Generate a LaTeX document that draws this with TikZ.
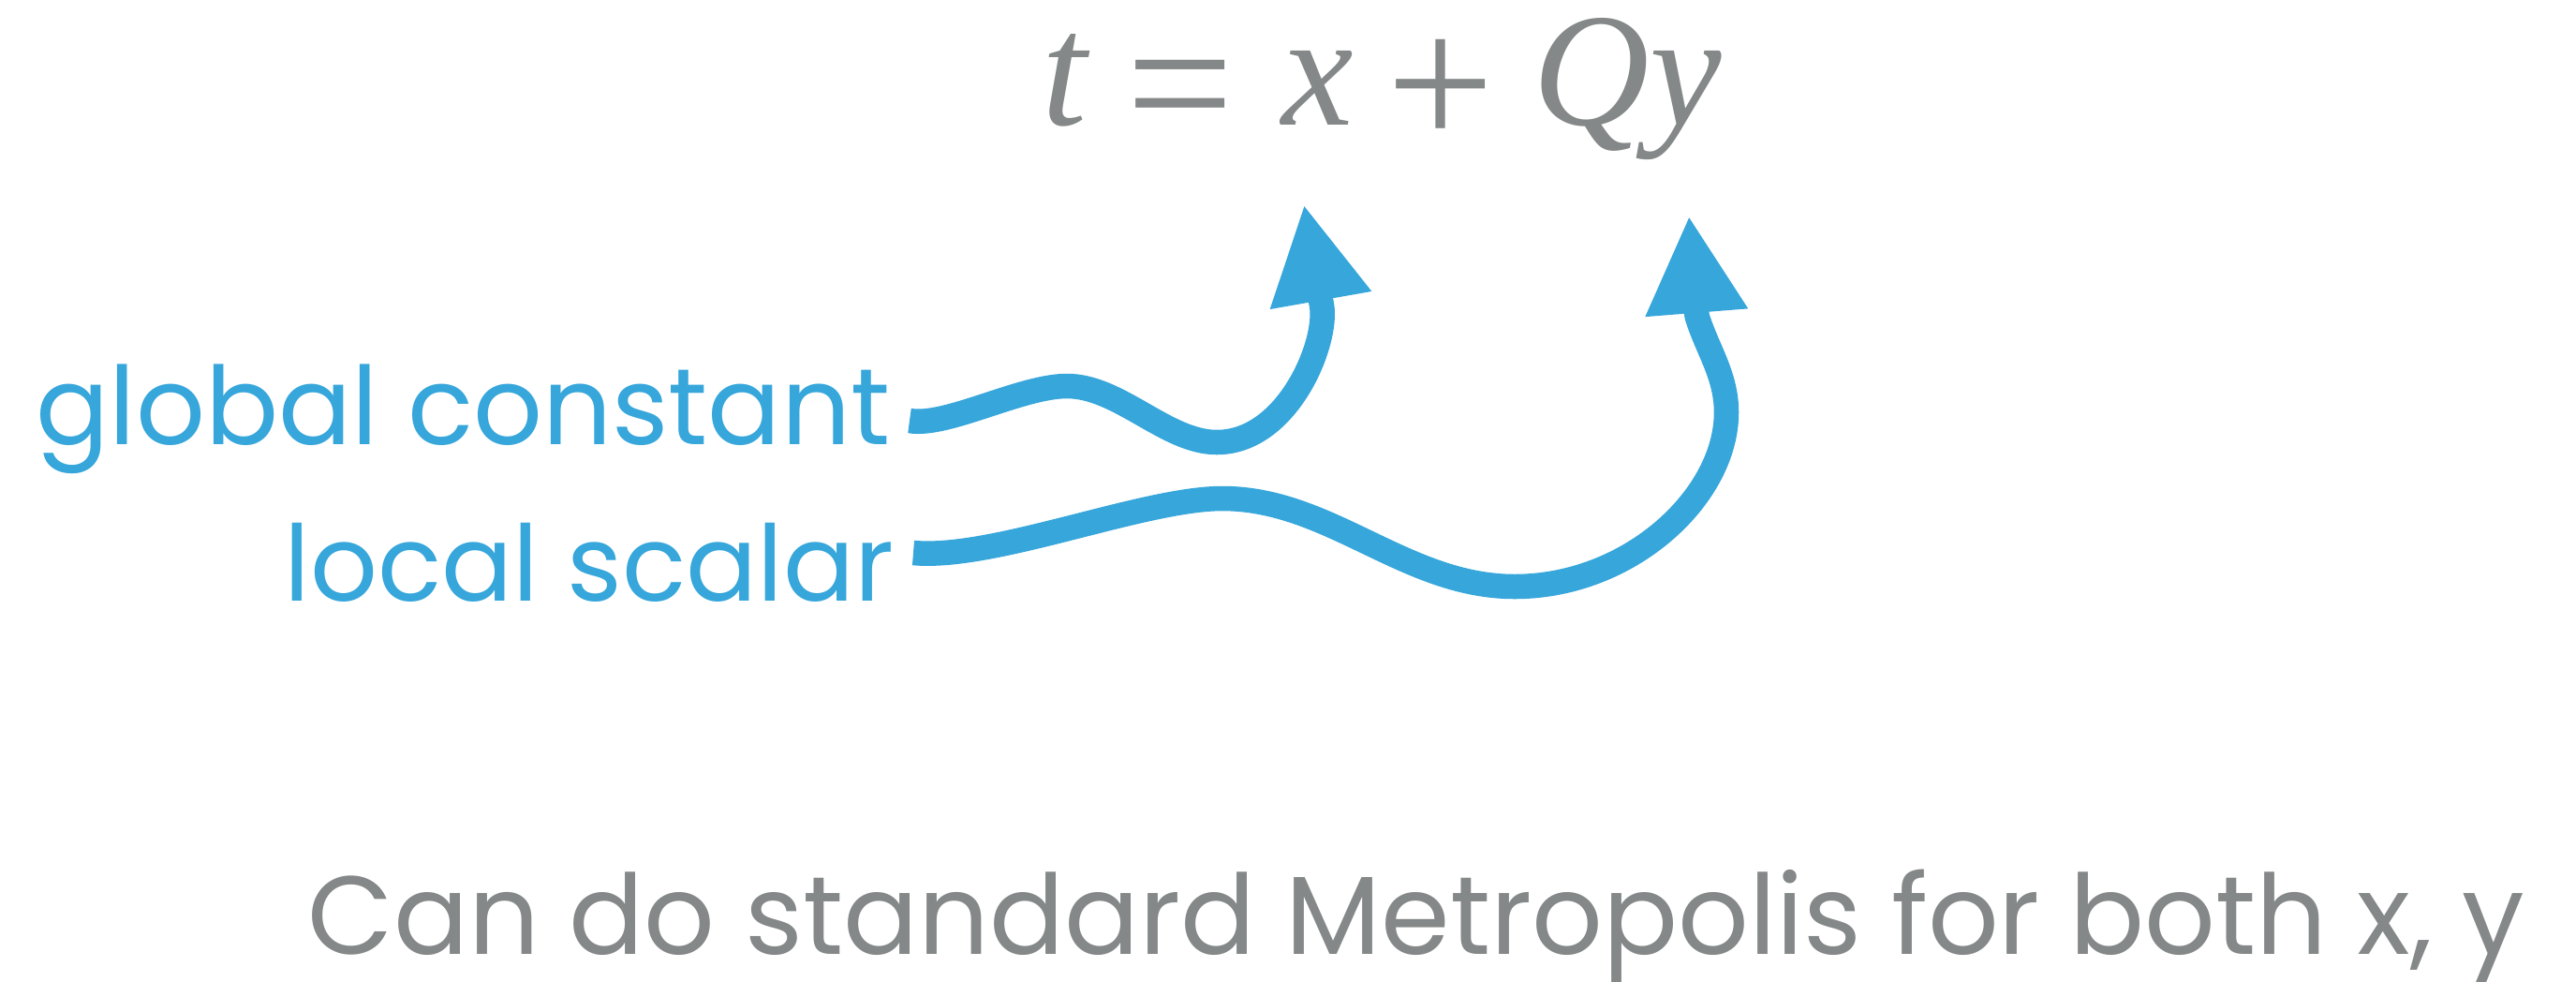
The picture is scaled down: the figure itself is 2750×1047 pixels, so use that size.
\documentclass[tikz,border=0pt]{standalone}
\usepackage{fontspec}
\setmainfont{Poppins}
\newfontfamily\eqfont{Liberation Serif}
\usetikzlibrary{arrows.meta}
\definecolor{myblue}{HTML}{36A6DB}
\definecolor{mygray}{HTML}{858888}
\begin{document}
\begin{tikzpicture}[x=0.01cm,y=-0.01cm,
  lbl/.style={inner sep=0pt, text=myblue, anchor=base east},
  note/.style={inner sep=0pt, text=mygray, font=\fontsize{33.7}{40}\selectfont, anchor=base west},
  eqletter/.style={inner sep=0pt, text=mygray, font=\eqfont\itshape\fontsize{49}{55}\selectfont, anchor=base west},
  eqop/.style={inner sep=0pt, text=mygray, font=\eqfont\fontsize{58}{60}\selectfont, anchor=base west},
  conn/.style={draw=myblue, line width=0.265cm, line cap=butt, line join=round,
    -{Triangle[length=1.04cm,width=1.02cm]}}]
\useasboundingbox (0,0) rectangle (2750,1047);
% equation
\node[eqletter] (t) at (1112,133) {t};
\node[eqop] (eq) at (1202,157) {=};
\node[eqletter] (xv) at (1368,133) {x};
\node[eqop] (plus) at (1480,157) {+};
\node[eqletter] (qy) at (1636,133) {Qy};
% labels
\node[lbl, font=\fontsize{32.9}{40}\selectfont] (gc) at (951,474) {global constant};
\node[lbl, font=\fontsize{32.0}{39}\selectfont] (ls) at (955,641) {local scalar};
\node[note] (bottom) at (328,1018) {Can do standard Metropolis for both x, y};
% connector end points
\coordinate (gtail) at (971,449);
\coordinate (gtip) at (1392,218);
\coordinate (ltail) at (975,590);
\coordinate (ltip) at (1803,230);
% connectors
\draw[conn] (gtail) .. controls (1010,456) and (1090,412) .. (1139,412)
  .. controls (1195,412) and (1245,472) .. (1299,472)
  .. controls (1375,472) and (1418,365) .. (1411,326) -- (gtip);
\draw[conn] (ltail) .. controls (1060,598) and (1220,532) .. (1305,532)
  .. controls (1420,532) and (1500,626) .. (1617,626)
  .. controls (1740,626) and (1843,530) .. (1843,440)
  .. controls (1843,400) and (1822,372) .. (1811.5,337) -- (ltip);
\end{tikzpicture}
\end{document}
